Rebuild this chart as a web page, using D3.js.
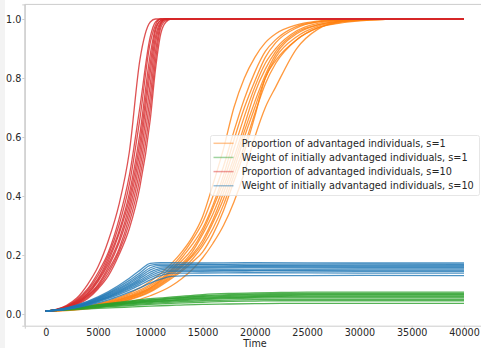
<!DOCTYPE html>
<html>
<head>
<meta charset="utf-8">
<script src="https://cdn.jsdelivr.net/npm/d3@7"></script>
<style>
  body { margin: 0; background: #fff; }
  svg { display: block; font-family: "DejaVu Sans", sans-serif; }
</style>
</head>
<body>
<div id="chart"></div>
<script>
// time grids (one per family of runs)
const redTime = [0, 1000, 2000, 3000, 4000, 5000, 6000, 7000, 8000, 9000, 10000, 10500, 11000, 11500, 12000, 13000, 40000];
const orangeTime = [0, 2000, 4000, 6000, 8000, 10000, 12000, 13000, 14000, 15000, 16000, 17000, 18000, 19000, 20000, 21000, 22000, 24000, 26000, 28000, 31000, 34000, 40000];
const greenTime = [0, 2500, 5000, 7500, 10000, 12500, 15000, 17500, 20000, 22500, 25000, 30000, 40000];
const blueTime = [0, 2000, 4000, 6000, 8000, 9000, 10000, 11000, 12000, 14000, 20000, 30000, 40000];

// Proportion of advantaged individuals, s=1
const orangeRuns = [
  [0.01, 0.016, 0.027, 0.045, 0.07, 0.11, 0.17, 0.21, 0.26, 0.33, 0.44, 0.56, 0.7, 0.8, 0.87, 0.92, 0.95, 0.98, 0.993, 0.998, 1, 1, 1],
  [0.01, 0.015, 0.026, 0.042, 0.066, 0.1, 0.16, 0.2, 0.25, 0.31, 0.4, 0.5, 0.62, 0.73, 0.82, 0.89, 0.93, 0.975, 0.99, 0.996, 1, 1, 1],
  [0.01, 0.015, 0.025, 0.04, 0.062, 0.095, 0.15, 0.19, 0.235, 0.29, 0.37, 0.47, 0.59, 0.7, 0.79, 0.87, 0.92, 0.97, 0.99, 0.996, 1, 1, 1],
  [0.01, 0.014, 0.024, 0.038, 0.06, 0.09, 0.145, 0.18, 0.22, 0.28, 0.36, 0.45, 0.56, 0.67, 0.77, 0.85, 0.9, 0.96, 0.985, 0.995, 1, 1, 1],
  [0.01, 0.014, 0.023, 0.037, 0.057, 0.088, 0.14, 0.17, 0.21, 0.27, 0.34, 0.43, 0.53, 0.64, 0.75, 0.83, 0.89, 0.955, 0.98, 0.993, 0.999, 1, 1],
  [0.01, 0.014, 0.022, 0.035, 0.055, 0.085, 0.135, 0.165, 0.2, 0.25, 0.32, 0.41, 0.51, 0.62, 0.72, 0.81, 0.88, 0.95, 0.98, 0.992, 0.999, 1, 1],
  [0.01, 0.013, 0.022, 0.034, 0.053, 0.082, 0.13, 0.16, 0.195, 0.24, 0.31, 0.39, 0.49, 0.6, 0.7, 0.8, 0.87, 0.94, 0.975, 0.99, 0.998, 1, 1],
  [0.01, 0.013, 0.021, 0.033, 0.05, 0.078, 0.125, 0.15, 0.185, 0.23, 0.29, 0.37, 0.47, 0.57, 0.68, 0.78, 0.85, 0.93, 0.97, 0.988, 0.997, 1, 1],
  [0.01, 0.013, 0.02, 0.031, 0.048, 0.075, 0.12, 0.145, 0.175, 0.21, 0.27, 0.35, 0.45, 0.55, 0.67, 0.8, 0.86, 0.93, 0.97, 0.985, 0.996, 1, 1],
  [0.01, 0.012, 0.018, 0.028, 0.04, 0.062, 0.095, 0.12, 0.15, 0.19, 0.24, 0.3, 0.38, 0.48, 0.6, 0.7, 0.77, 0.9, 0.965, 0.99, 0.998, 1, 1]
];

// Weight of initially advantaged individuals, s=1
const greenRuns = [
  [0.01, 0.021, 0.032, 0.042, 0.052, 0.059, 0.066, 0.07, 0.072, 0.073, 0.074, 0.074, 0.074],
  [0.01, 0.02, 0.03, 0.04, 0.049, 0.056, 0.062, 0.066, 0.068, 0.069, 0.07, 0.07, 0.07],
  [0.01, 0.02, 0.029, 0.039, 0.047, 0.054, 0.06, 0.063, 0.065, 0.066, 0.067, 0.067, 0.067],
  [0.01, 0.019, 0.028, 0.037, 0.045, 0.052, 0.057, 0.06, 0.062, 0.063, 0.064, 0.064, 0.064],
  [0.01, 0.019, 0.027, 0.036, 0.043, 0.049, 0.054, 0.057, 0.059, 0.06, 0.061, 0.061, 0.061],
  [0.01, 0.018, 0.026, 0.034, 0.041, 0.047, 0.052, 0.055, 0.057, 0.058, 0.058, 0.058, 0.058],
  [0.01, 0.018, 0.025, 0.033, 0.039, 0.045, 0.049, 0.052, 0.054, 0.055, 0.055, 0.055, 0.055],
  [0.01, 0.017, 0.024, 0.03, 0.036, 0.041, 0.045, 0.047, 0.049, 0.05, 0.05, 0.05, 0.05],
  [0.01, 0.016, 0.022, 0.028, 0.033, 0.037, 0.04, 0.043, 0.044, 0.045, 0.045, 0.045, 0.045],
  [0.01, 0.014, 0.019, 0.023, 0.027, 0.03, 0.033, 0.034, 0.035, 0.036, 0.036, 0.036, 0.036]
];

// Proportion of advantaged individuals, s=10
const redRuns = [
  [0.01, 0.016, 0.03, 0.055, 0.1, 0.16, 0.25, 0.37, 0.55, 0.86, 0.99, 1, 1, 1, 1, 1, 1],
  [0.01, 0.015, 0.027, 0.05, 0.085, 0.14, 0.21, 0.32, 0.47, 0.7, 0.94, 0.99, 1, 1, 1, 1, 1],
  [0.01, 0.015, 0.026, 0.047, 0.08, 0.13, 0.2, 0.3, 0.44, 0.66, 0.92, 0.98, 1, 1, 1, 1, 1],
  [0.01, 0.014, 0.025, 0.044, 0.075, 0.12, 0.19, 0.28, 0.41, 0.61, 0.88, 0.97, 0.995, 1, 1, 1, 1],
  [0.01, 0.014, 0.024, 0.042, 0.07, 0.115, 0.18, 0.27, 0.39, 0.58, 0.85, 0.96, 0.995, 1, 1, 1, 1],
  [0.01, 0.014, 0.023, 0.04, 0.067, 0.11, 0.17, 0.25, 0.37, 0.55, 0.82, 0.94, 0.99, 1, 1, 1, 1],
  [0.01, 0.013, 0.022, 0.038, 0.063, 0.1, 0.16, 0.24, 0.35, 0.52, 0.78, 0.92, 0.985, 1, 1, 1, 1],
  [0.01, 0.013, 0.021, 0.036, 0.06, 0.095, 0.15, 0.22, 0.33, 0.49, 0.74, 0.89, 0.98, 0.998, 1, 1, 1],
  [0.01, 0.013, 0.02, 0.034, 0.056, 0.09, 0.14, 0.21, 0.31, 0.46, 0.7, 0.86, 0.97, 0.995, 1, 1, 1],
  [0.01, 0.012, 0.019, 0.032, 0.052, 0.085, 0.13, 0.2, 0.29, 0.43, 0.66, 0.83, 0.95, 0.99, 1, 1, 1]
];

// Weight of initially advantaged individuals, s=10
const blueRuns = [
  [0.01, 0.021, 0.043, 0.076, 0.121, 0.148, 0.172, 0.174, 0.174, 0.173, 0.174, 0.173, 0.173],
  [0.01, 0.02, 0.041, 0.072, 0.114, 0.139, 0.165, 0.169, 0.169, 0.168, 0.169, 0.169, 0.168],
  [0.01, 0.019, 0.039, 0.069, 0.108, 0.132, 0.157, 0.165, 0.165, 0.166, 0.165, 0.165, 0.165],
  [0.01, 0.019, 0.038, 0.066, 0.103, 0.126, 0.15, 0.16, 0.161, 0.161, 0.162, 0.161, 0.161],
  [0.01, 0.018, 0.036, 0.063, 0.098, 0.12, 0.142, 0.155, 0.157, 0.157, 0.158, 0.157, 0.157],
  [0.01, 0.018, 0.035, 0.06, 0.094, 0.114, 0.135, 0.15, 0.153, 0.153, 0.152, 0.153, 0.153],
  [0.01, 0.017, 0.034, 0.058, 0.09, 0.109, 0.129, 0.144, 0.149, 0.149, 0.148, 0.149, 0.149],
  [0.01, 0.017, 0.033, 0.056, 0.086, 0.104, 0.123, 0.137, 0.145, 0.145, 0.146, 0.145, 0.145],
  [0.01, 0.016, 0.031, 0.053, 0.081, 0.098, 0.116, 0.13, 0.139, 0.139, 0.14, 0.139, 0.139],
  [0.01, 0.016, 0.029, 0.048, 0.074, 0.089, 0.105, 0.118, 0.128, 0.13, 0.13, 0.131, 0.13]
];

const xTicks = [0, 5000, 10000, 15000, 20000, 25000, 30000, 35000, 40000];
const yTicks = [0.0, 0.2, 0.4, 0.6, 0.8, 1.0];
const legendLabels = [
  'Proportion of advantaged individuals, s=1',
  'Weight of initially advantaged individuals, s=1',
  'Proportion of advantaged individuals, s=10',
  'Weight of initially advantaged individuals, s=10'
];

const width = 481, height = 348;
const colors = ['#ff7f0e', '#2ca02c', '#d62728', '#1f77b4'];
const families = [
  { time: orangeTime, runs: orangeRuns },
  { time: greenTime, runs: greenRuns },
  { time: redTime, runs: redRuns },
  { time: blueTime, runs: blueRuns }
];
const fontSize = '9.6px';

const svg = d3.select('#chart').append('svg')
  .attr('width', width)
  .attr('height', height);

svg.append('rect')
  .attr('width', width)
  .attr('height', height)
  .attr('fill', '#fff');

// faint strip at the left edge of the figure
svg.append('rect')
  .attr('width', 5)
  .attr('height', height)
  .attr('fill', '#f3f3f3');

// axes area, matplotlib-like 5% margins
const x = d3.scaleLinear().domain([-2000, 42000]).range([24.8, 484.9]);
const y = d3.scaleLinear().domain([-0.0395, 1.0495]).range([325.7, 4.4]);

const line = d3.line()
  .x(d => x(d.t))
  .y(d => y(d.v))
  .curve(d3.curveMonotoneX);

const g = svg.append('g');

families.forEach((f, k) => {
  f.runs.forEach(run => {
    const pts = run.map((v, i) => ({ t: f.time[i], v: v }));
    g.append('path')
      .datum(pts)
      .attr('fill', 'none')
      .attr('stroke', colors[k])
      .attr('stroke-opacity', 0.8)
      .attr('stroke-width', 1.3)
      .attr('stroke-linejoin', 'round')
      .attr('d', line);
  });
});

// spines
const spine = '#cccccc';
svg.append('line').attr('x1', 24.8).attr('x2', 24.8).attr('y1', 4.4).attr('y2', 325.7).attr('stroke', spine);
svg.append('line').attr('x1', 24.8).attr('x2', 484.9).attr('y1', 4.4).attr('y2', 4.4).attr('stroke', spine);
svg.append('line').attr('x1', 484.9).attr('x2', 484.9).attr('y1', 4.4).attr('y2', 325.7).attr('stroke', spine);

const xAxis = svg.append('g')
  .attr('transform', 'translate(0,325.7)')
  .call(d3.axisBottom(x).tickValues(xTicks).tickFormat(d3.format('d')).tickSize(3).tickPadding(0.5));

const yAxis = svg.append('g')
  .attr('transform', 'translate(24.8,0)')
  .call(d3.axisLeft(y).tickValues(yTicks).tickFormat(d3.format('.1f')).tickSize(2.5).tickPadding(1));

[xAxis, yAxis].forEach(a => {
  a.select('.domain').attr('stroke', spine);
  a.selectAll('.tick line').attr('stroke', spine);
  a.selectAll('.tick text')
    .attr('fill', '#262626')
    .style('font-family', '"DejaVu Sans", sans-serif')
    .style('font-size', fontSize);
});

svg.append('text')
  .attr('x', 254.9)
  .attr('y', 346.5)
  .attr('text-anchor', 'middle')
  .attr('fill', '#262626')
  .style('font-size', fontSize)
  .text('Time');

// legend, center right
const lg = svg.append('g');
lg.append('rect')
  .attr('x', 210.5).attr('y', 135.5)
  .attr('width', 269).attr('height', 60)
  .attr('rx', 2)
  .attr('fill', '#fff').attr('fill-opacity', 0.8)
  .attr('stroke', '#e0e0e0').attr('stroke-width', 0.8);

legendLabels.forEach((lab, i) => {
  const cy = 143.3 + i * 14.15;
  lg.append('line')
    .attr('x1', 213.5).attr('x2', 233.5)
    .attr('y1', cy).attr('y2', cy)
    .attr('stroke', colors[i]).attr('stroke-opacity', 0.45).attr('stroke-width', 1.5);
  lg.append('text')
    .attr('x', 241.7).attr('y', cy)
    .attr('dy', '0.35em')
    .attr('fill', '#262626')
    .style('font-size', '9.7px')
    .text(lab);
});
</script>
</body>
</html>
